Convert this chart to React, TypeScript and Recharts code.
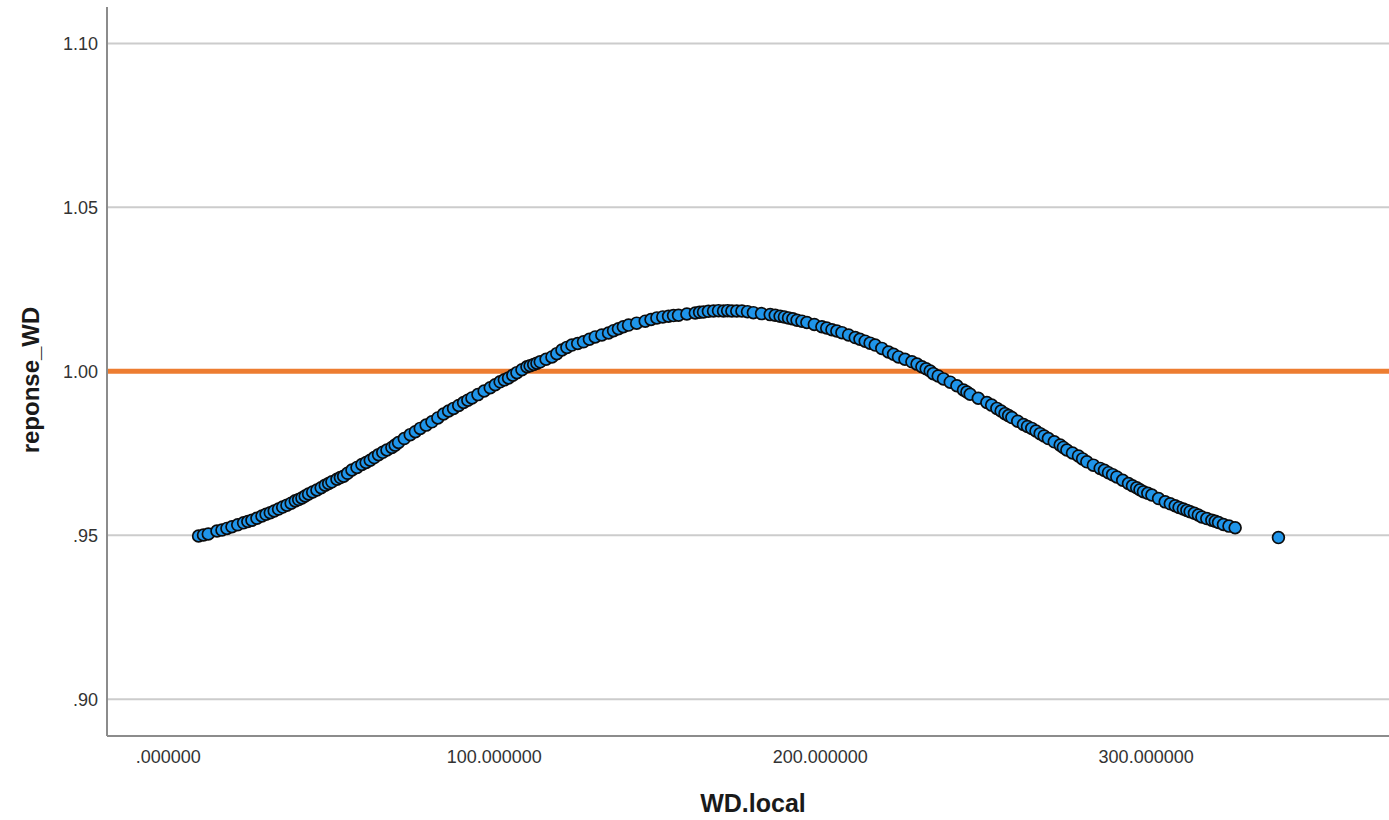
import React from "react";
import {
  ScatterChart,
  Scatter,
  XAxis,
  YAxis,
  ReferenceLine,
} from "recharts";

// WD.local values (x) of the clearly visible dots
const wdLocal: number[] = [
  9.29, 12.27, 14.93, 16.47, 18.0, 19.54, 23.1, 25.67, 28.74, 31.29, 33.83,
  36.4, 38.96, 41.0, 43.04, 45.6, 48.16, 50.2, 51.75, 53.8, 56.35, 59.4,
  61.96, 64.51, 67.08, 68.6, 70.64, 74.23, 77.3, 80.89, 84.45, 87.52, 90.6,
  93.16, 98.77, 101.8, 104.39, 106.96, 110.03, 112.1, 114.11, 117.7, 120.77,
  123.83, 127.39, 130.98, 135.06, 138.1, 141.2, 146.32, 149.9, 153.47,
  156.53, 161.66, 164.2, 167.27, 170.34, 172.9, 175.98, 179.5, 184.66,
  187.7, 190.28, 192.9, 195.92, 200.52, 203.6, 206.66, 210.74, 213.8,
  216.87, 220.95, 224.02, 228.13, 231.2, 233.74, 234.7, 237.82, 241.93,
  243.96, 246.01, 251.13, 254.2, 256.7, 258.8, 262.36, 264.9, 267.48, 270.0,
  273.62, 275.67, 279.23, 281.8, 285.89, 288.44, 291.0, 294.57, 297.1,
  299.17, 301.75, 305.83, 308.9, 311.4, 313.5, 316.0, 317.09, 320.15, 322.2,
  323.71, 327.3, 340.58,
];

// reponse_WD values (y) of the clearly visible dots
const reponseWD: number[] = [
  0.9498, 0.9504, 0.9513, 0.9516, 0.9521, 0.9526, 0.9538, 0.9546, 0.9559,
  0.9569, 0.958, 0.9592, 0.9605, 0.9614, 0.9626, 0.9638, 0.9653, 0.9663,
  0.9671, 0.968, 0.9699, 0.9716, 0.9729, 0.9746, 0.976, 0.9768, 0.9783,
  0.9807, 0.9826, 0.9846, 0.987, 0.9887, 0.9905, 0.9919, 0.995, 0.9968,
  0.998, 0.9996, 1.0014, 1.0021, 1.0029, 1.0044, 1.0065, 1.008, 1.009,
  1.0105, 1.0117, 1.013, 1.0141, 1.0153, 1.0163, 1.0168, 1.0171, 1.0178,
  1.0181, 1.0184, 1.0184, 1.0184, 1.0184, 1.0179, 1.0173, 1.0168, 1.0163,
  1.0156, 1.0149, 1.0136, 1.0127, 1.0118, 1.0103, 1.0092, 1.008, 1.0059,
  1.0044, 1.0029, 1.0014, 1.0001, 0.9993, 0.9977, 0.9956, 0.9943, 0.993,
  0.9905, 0.9887, 0.9871, 0.9859, 0.9838, 0.9826, 0.981, 0.9795, 0.9775,
  0.976, 0.9742, 0.9724, 0.9704, 0.9691, 0.9678, 0.9658, 0.9645, 0.9633,
  0.9623, 0.9602, 0.959, 0.958, 0.9572, 0.9562, 0.9556, 0.9546, 0.9539,
  0.9533, 0.9523, 0.9493,
];

// WD.local values (x) of the partly hidden dots inside the dark band
const wdLocalHidden: number[] = [
  10.8, 21.3, 24.4, 27.2, 30.0, 32.5, 35.1, 37.7, 40.0, 42.0, 44.3, 46.9,
  49.2, 52.8, 55.0, 57.9, 60.7, 63.2, 65.8, 69.6, 72.4, 75.8, 79.1, 82.7,
  86.0, 89.1, 91.9, 95.0, 96.9, 100.3, 103.1, 105.7, 108.5, 111.0, 113.1,
  115.9, 119.2, 122.3, 125.6, 129.2, 133.0, 136.6, 139.6, 143.7, 148.1,
  151.7, 155.0, 159.1, 163.0, 165.7, 168.8, 171.6, 174.4, 177.7, 182.0,
  186.2, 189.0, 191.6, 194.4, 198.2, 202.0, 205.1, 208.7, 212.2, 215.3,
  218.9, 222.5, 226.0, 229.7, 232.5, 236.2, 239.9, 245.0, 248.5, 252.6,
  255.5, 257.8, 260.6, 263.6, 266.2, 268.7, 271.8, 274.6, 277.4, 280.5,
  283.8, 287.2, 289.7, 292.8, 295.8, 298.1, 300.5, 303.8, 307.4, 310.1,
  312.5, 314.8, 318.6, 321.2, 325.4,
];

// reponse_WD values (y) of the partly hidden dots
const reponseWDHidden: number[] = [
  0.9501, 0.9532, 0.9542, 0.9552, 0.9564, 0.9574, 0.9586, 0.9598, 0.9609,
  0.962, 0.9632, 0.9645, 0.9658, 0.9676, 0.9689, 0.9707, 0.9722, 0.9737,
  0.9753, 0.9775, 0.9795, 0.9816, 0.9836, 0.9858, 0.9879, 0.9896, 0.9912,
  0.9929, 0.994, 0.9959, 0.9974, 0.9988, 1.0005, 1.0017, 1.0025, 1.0037,
  1.0054, 1.0073, 1.0085, 1.0098, 1.0111, 1.0124, 1.0136, 1.0147, 1.0158,
  1.0166, 1.017, 1.0175, 1.018, 1.0183, 1.0185, 1.0185, 1.0184, 1.0182,
  1.0176, 1.0171, 1.0166, 1.016, 1.0153, 1.0143, 1.0132, 1.0123, 1.0111,
  1.0098, 1.0086, 1.007, 1.0052, 1.0037, 1.0022, 1.0008, 0.9986, 0.9967,
  0.9937, 0.9918, 0.9897, 0.9879, 0.9865, 0.9848, 0.9832, 0.9818, 0.9803,
  0.9785, 0.9768, 0.9751, 0.9733, 0.9714, 0.9698, 0.9685, 0.9668, 0.9651,
  0.9639, 0.9628, 0.9612, 0.9596, 0.9585, 0.9576, 0.9567, 0.9551, 0.9543,
  0.9528,
];

const xTicks: number[] = [0, 100, 200, 300];
const yTicks: number[] = [0.9, 0.95, 1.0, 1.05, 1.1];
const referenceValue = 1.0;

const points = [
  ...wdLocal.map((x, i) => ({ x, y: reponseWD[i] })),
  ...wdLocalHidden.map((x, i) => ({ x, y: reponseWDHidden[i] })),
].sort((a, b) => a.x - b.x);

const fmtX = (v: number) => (v === 0 ? ".000000" : v.toFixed(6));
const fmtY = (v: number) => {
  const s = v.toFixed(2);
  return s.startsWith("0") ? s.slice(1) : s;
};

const Dot = (props: any) => {
  const { cx, cy } = props;
  if (cx == null || cy == null) return null;
  return (
    <circle
      cx={cx}
      cy={cy}
      r={5.9}
      fill="#1f95ea"
      stroke="#0c0c0c"
      strokeWidth={1.7}
    />
  );
};

const tickStyle = {
  fontFamily: "'Liberation Sans', Arial, sans-serif",
  fontSize: 18,
  fill: "#333333",
};

export default function App() {
  return (
    <div
      style={{
        position: "absolute",
        left: 0,
        top: 0,
        width: 1389,
        height: 820,
        background: "#ffffff",
        fontFamily: "'Liberation Sans', Arial, sans-serif",
      }}
    >
      <ScatterChart
        width={1389}
        height={820}
        margin={{ top: 7, right: 0, bottom: 0, left: 0 }}
      >
        <XAxis
          type="number"
          dataKey="x"
          domain={[-18.8, 374.5]}
          ticks={xTicks}
          tickFormatter={fmtX}
          tickLine={false}
          tickSize={0}
          tickMargin={14}
          height={84}
          axisLine={{ stroke: "#8c8c8c", strokeWidth: 2 }}
          tick={tickStyle}
          allowDataOverflow
        />
        <YAxis
          type="number"
          dataKey="y"
          domain={[0.8888, 1.1111]}
          ticks={yTicks}
          tickFormatter={fmtY}
          tickLine={false}
          tickSize={0}
          tickMargin={9}
          width={107}
          axisLine={{ stroke: "#8c8c8c", strokeWidth: 2 }}
          tick={tickStyle}
          allowDataOverflow
        />
        {yTicks.map((t) => (
          <ReferenceLine
            key={`grid-${t}`}
            y={t}
            stroke="#cccccc"
            strokeWidth={2}
          />
        ))}
        <ReferenceLine
          y={referenceValue}
          stroke="#ed7d31"
          strokeWidth={5}
        />
        <Scatter data={points} shape={Dot} isAnimationActive={false} />
      </ScatterChart>
      <div
        style={{
          position: "absolute",
          left: 653,
          width: 200,
          top: 788,
          textAlign: "center",
          fontSize: 25,
          fontWeight: "bold",
          color: "#1a1a1a",
          lineHeight: "30px",
        }}
      >
        WD.local
      </div>
      <div
        style={{
          position: "absolute",
          left: 31 - 100,
          top: 380 - 15,
          width: 200,
          height: 30,
          textAlign: "center",
          fontSize: 24,
          fontWeight: "bold",
          color: "#1a1a1a",
          lineHeight: "30px",
          transform: "rotate(-90deg)",
          transformOrigin: "100px 15px",
        }}
      >
        reponse_WD
      </div>
    </div>
  );
}
